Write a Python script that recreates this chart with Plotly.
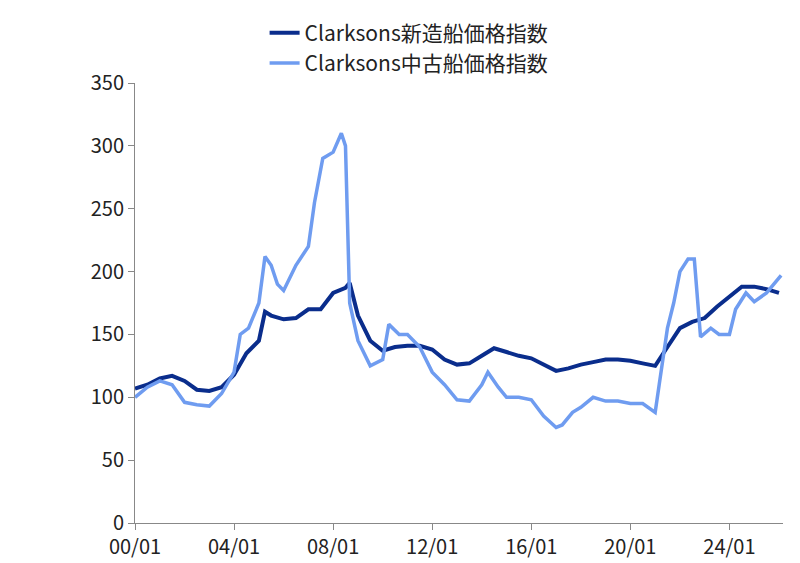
import plotly.graph_objects as go

new_dates = ["2000-01","2000-07","2001-01","2001-07","2002-01","2002-07","2003-01","2003-07","2004-01","2004-07","2005-01","2005-04","2005-07","2006-01","2006-07","2007-01","2007-07","2008-01","2008-07","2008-09","2009-01","2009-07","2010-01","2010-07","2011-01","2011-07","2012-01","2012-07","2013-01","2013-07","2014-01","2014-07","2015-01","2015-07","2016-01","2016-07","2017-01","2017-07","2018-01","2018-07","2019-01","2019-07","2020-01","2020-07","2021-01","2021-07","2022-01","2022-07","2023-01","2023-07","2024-01","2024-07","2025-01","2025-07","2026-01"]
new_vals = [107,110,115,117,113,106,105,108,118,135,145,168,165,162,163,170,170,183,187,191,165,145,137,140,141,141,138,130,126,127,133,139,136,133,131,126,121,123,126,128,130,130,129,127,125,140,155,160,163,172,180,188,188,186,183]

sh_dates = ["2000-01","2000-07","2001-01","2001-07","2002-01","2002-07","2003-01","2003-07","2004-01","2004-04","2004-08","2005-01","2005-04","2005-07","2005-10","2006-01","2006-07","2007-01","2007-04","2007-08","2008-01","2008-05","2008-07","2008-09","2009-01","2009-07","2010-01","2010-04","2010-09","2011-01","2011-07","2012-01","2012-07","2013-01","2013-07","2014-01","2014-04","2014-09","2015-01","2015-07","2016-01","2016-07","2017-01","2017-04","2017-09","2018-01","2018-07","2019-01","2019-07","2020-01","2020-07","2021-01","2021-03","2021-07","2021-10","2022-01","2022-05","2022-08","2022-11","2023-04","2023-08","2024-01","2024-04","2024-09","2025-01","2025-07","2026-02"]
sh_vals = [100,108,113,110,96,94,93,103,120,150,155,175,212,205,190,185,205,220,255,290,295,310,300,175,145,125,130,158,150,150,140,120,110,98,97,110,120,108,100,100,98,85,76,78,88,92,100,97,97,95,95,88,110,155,175,200,210,210,148,155,150,150,170,183,176,183,197]

fig = go.Figure()
fig.add_trace(go.Scatter(x=new_dates, y=new_vals, mode="lines", name="Clarksons新造船価格指数",
                         line=dict(color="#0a2d8c", width=4)))
fig.add_trace(go.Scatter(x=sh_dates, y=sh_vals, mode="lines", name="Clarksons中古船価格指数",
                         line=dict(color="#6f9cf0", width=3.5)))
fig.update_layout(
    width=800, height=563, paper_bgcolor="white", plot_bgcolor="white",
    margin=dict(l=127, r=25, t=75, b=48, autoexpand=False),
    font=dict(family="Noto Sans CJK JP", size=20, color="#222"),
    legend=dict(x=0.2, y=1.16, xanchor="left", yanchor="top", bgcolor="rgba(0,0,0,0)",
                font=dict(size=21), tracegroupgap=0),
    xaxis=dict(type="date", range=["2000-01-01","2026-03-01"], tickformat="%y/%m", dtick="M48",
               tick0="2000-01-01", showgrid=False, showline=True, linecolor="#888", ticks="outside",
               tickcolor="#888", ticklen=6),
    yaxis=dict(range=[0,350], dtick=50, showgrid=False, showline=True, linecolor="#888",
               ticks="outside", tickcolor="#888", ticklen=6),
)
fig.layout.annotations = [dict(text="(pt)", x=-0.145, y=1.17, xref="paper", yref="paper",
                               xanchor="left", yanchor="bottom", showarrow=False, font=dict(size=19))]
fig.write_html("out.html")
